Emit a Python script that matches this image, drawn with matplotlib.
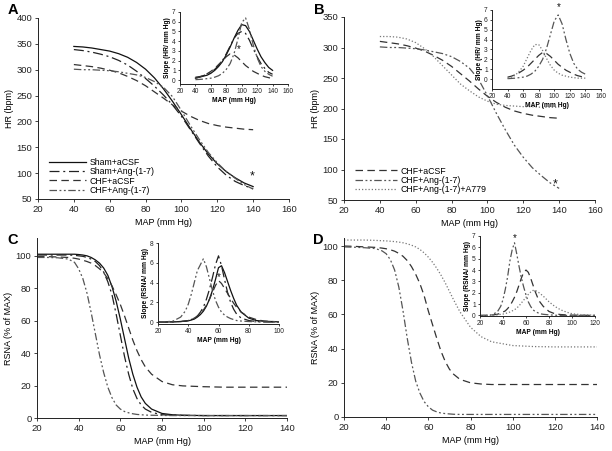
import matplotlib
matplotlib.use("Agg")
import matplotlib.pyplot as plt

plt.rcParams['font.family'] = ['Liberation Sans', 'DejaVu Sans']

# ---------------- DATA ----------------
# Panel A / B main: HR (bpm) vs MAP (mm Hg)
map_hr = [40, 45, 50, 55, 60, 65, 70, 75, 80, 85, 90, 95, 100, 105, 110, 115, 120, 125, 130, 135, 140]
hr_sham_acsf = [345, 344, 342, 339, 336, 331, 324, 314, 301, 284, 263, 239, 213, 186, 160, 137, 118, 103, 91, 81, 74]
hr_sham_ang = [339, 337, 334, 330, 325, 318, 309, 297, 283, 268, 251, 232, 210, 184, 158, 133, 112, 96, 84, 76, 70]
hr_chf_acsf = [310, 308, 306, 303, 299, 294, 287, 279, 269, 257, 245, 232, 220, 210, 202, 196, 192, 189, 187, 185, 184]
hr_chf_ang = [301, 300, 300, 299, 298, 296, 293, 290, 285, 277, 266, 248, 221, 192, 165, 140, 120, 103, 90, 78, 69]
hr_chf_ang_a779 = [318, 318, 317, 314, 308, 298, 285, 270, 255, 240, 229, 219, 212, 207, 205, 204, 203, 203, 202, 202, 202]

# Panel A / B insets: slope (HR/mm Hg)
slA_sham_acsf = [0.2, 0.3, 0.4, 0.5, 0.7, 1.0, 1.4, 1.9, 2.6, 3.4, 4.3, 5.1, 5.7, 5.6, 5.0, 4.1, 3.2, 2.4, 1.8, 1.3, 1.0]
slA_sham_ang = [0.3, 0.35, 0.45, 0.6, 0.8, 1.1, 1.5, 2.0, 2.7, 3.5, 4.3, 4.8, 5.0, 4.8, 4.1, 3.2, 2.4, 1.7, 1.2, 0.8, 0.6]
slA_chf_acsf = [0.2, 0.3, 0.45, 0.65, 0.9, 1.2, 1.6, 2.0, 2.4, 2.7, 2.6, 2.3, 1.9, 1.5, 1.2, 0.9, 0.7, 0.5, 0.35, 0.25, 0.15]
slA_chf_ang = [0.05, 0.07, 0.1, 0.15, 0.2, 0.3, 0.45, 0.7, 1.1, 1.7, 2.7, 4.2, 5.9, 6.4, 5.2, 3.6, 2.3, 1.4, 0.9, 0.6, 0.4]
slB_chf_ang = [0.05, 0.07, 0.1, 0.15, 0.2, 0.3, 0.5, 0.8, 1.3, 2.0, 3.1, 4.5, 5.9, 6.5, 5.6, 4.0, 2.6, 1.6, 1.0, 0.7, 0.5]
slB_a779 = [0.1, 0.2, 0.4, 0.8, 1.3, 2.1, 2.9, 3.5, 3.5, 2.9, 2.1, 1.4, 0.9, 0.6, 0.4, 0.3, 0.2, 0.15, 0.1, 0.1, 0.1]

# Panel C / D main: RSNA (% of MAX) vs MAP
map_rs = [20, 25, 30, 35, 38, 40, 42, 44, 46, 48, 50, 52, 54, 56, 58, 60, 62, 64, 66, 68, 70, 72, 75, 80, 85, 90, 100, 110, 120, 130, 140]
rsC_sham_acsf = [101, 101, 101, 101, 101, 100.8, 100.5, 100, 99, 97.5, 95.5, 92.5, 88, 81, 72, 61, 49, 37, 27, 19, 13, 9, 5.5, 2.8, 2, 1.7, 1.5, 1.5, 1.5, 1.5, 1.5]
rsC_sham_ang = [100.5, 100.5, 100.5, 100.5, 100.3, 100, 99.7, 99, 98, 96.5, 94, 90, 84, 76, 64, 51, 38, 27, 18, 12, 8, 5.5, 3.5, 2, 1.8, 1.6, 1.5, 1.5, 1.5, 1.5, 1.5]
rsC_chf_acsf = [99.5, 99.5, 99.3, 99, 98.5, 98, 97.3, 96.5, 95.5, 94, 92, 89.5, 86, 81.5, 76, 70, 63, 55.5, 48, 41.5, 36, 31.5, 27, 22.5, 20.5, 19.8, 19.3, 19, 19, 19, 19]
rsC_chf_ang = [99, 99, 98.8, 98, 96, 92, 86, 77, 65, 52, 39, 28, 19, 12.5, 8, 5.5, 4, 3.2, 2.6, 2.2, 2, 1.8, 1.7, 1.6, 1.5, 1.5, 1.5, 1.5, 1.5, 1.5, 1.5]
rsD_chf_acsf = [100, 99.8, 99.5, 99.2, 98.8, 98.4, 97.8, 97, 95.7, 94, 91.5, 88, 83.5, 78, 71, 62, 54, 46, 38.5, 32.5, 28, 25, 22, 20, 19.3, 19, 19, 19, 19, 19, 19]
rsD_chf_ang = [99.5, 99.3, 99, 98.5, 97.2, 95.5, 92, 86, 76, 62, 46, 32, 21, 14, 9, 6, 4, 3, 2.3, 2, 1.8, 1.6, 1.5, 1.5, 1.5, 1.5, 1.5, 1.5, 1.5, 1.5, 1.5]
rsD_a779 = [103.5, 103.5, 103.5, 103.3, 103.1, 103, 102.8, 102.6, 102.3, 101.9, 101.3, 100.5, 99.5, 98, 96, 93.5, 90.5, 87, 83, 78.5, 73.5, 68.5, 61.5, 52.5, 47, 44, 41.8, 41.2, 41, 41, 41]

# Panel C inset: slope (RSNA/mm Hg)
map_slC = [20, 25, 30, 35, 38, 40, 42, 44, 46, 48, 50, 52, 54, 56, 58, 60, 62, 64, 66, 68, 70, 72, 75, 80, 85, 90, 95, 100]
slC_chf_ang = [0, 0.02, 0.1, 0.5, 1.1, 1.8, 2.8, 4.0, 5.2, 5.8, 6.4, 5.6, 4.4, 3.2, 2.2, 1.5, 1.0, 0.7, 0.5, 0.35, 0.25, 0.15, 0.1, 0.05, 0.02, 0, 0, 0]
slC_sham_ang = [0, 0, 0.02, 0.05, 0.1, 0.15, 0.25, 0.4, 0.6, 1.0, 1.5, 2.3, 3.3, 4.5, 5.8, 6.7, 5.7, 4.3, 3.0, 2.0, 1.3, 0.8, 0.4, 0.15, 0.05, 0.02, 0, 0]
slC_sham_acsf = [0, 0, 0.02, 0.05, 0.08, 0.12, 0.2, 0.3, 0.5, 0.75, 1.1, 1.6, 2.3, 3.2, 4.3, 5.5, 5.7, 5.0, 4.1, 3.2, 2.4, 1.7, 1.0, 0.4, 0.15, 0.08, 0.05, 0.03]
slC_chf_acsf = [0, 0, 0.02, 0.05, 0.1, 0.15, 0.25, 0.4, 0.6, 0.85, 1.2, 1.7, 2.3, 3.0, 3.7, 4.2, 3.9, 3.4, 2.9, 2.4, 1.9, 1.5, 1.0, 0.5, 0.25, 0.1, 0.05, 0.03]

# Panel D inset
map_slD = [20, 25, 30, 35, 38, 40, 42, 44, 46, 48, 50, 52, 54, 56, 58, 60, 62, 64, 66, 68, 70, 72, 75, 80, 85, 90, 95, 100, 110, 120]
slD_chf_ang = [0, 0.01, 0.05, 0.3, 0.8, 1.4, 2.3, 3.4, 4.8, 5.8, 6.4, 5.4, 4.3, 3.3, 2.5, 1.8, 1.2, 0.8, 0.5, 0.35, 0.25, 0.15, 0.1, 0.05, 0.02, 0, 0, 0, 0, 0]
slD_chf_acsf = [0, 0, 0.03, 0.1, 0.2, 0.3, 0.4, 0.6, 0.85, 1.2, 1.6, 2.1, 2.7, 3.3, 3.8, 4.0, 3.8, 3.3, 2.7, 2.1, 1.6, 1.2, 0.8, 0.35, 0.15, 0.08, 0.05, 0.03, 0.01, 0]
slD_a779 = [0, 0, 0.02, 0.05, 0.1, 0.12, 0.17, 0.23, 0.3, 0.4, 0.5, 0.65, 0.85, 1.1, 1.35, 1.6, 1.85, 2.05, 2.2, 2.2, 2.1, 1.95, 1.7, 1.2, 0.8, 0.5, 0.3, 0.15, 0.05, 0.02]

# ---------------- STYLES ----------------
LW = 0.9
ST = {
    'sham_acsf': dict(color='#111111', linestyle='-', lw=LW),
    'sham_ang': dict(color='#222222', linestyle=(0, (8, 3, 1.6, 3)), lw=LW),
    'chf_acsf': dict(color='#333333', linestyle=(0, (6, 3.5)), lw=LW),
    'chf_ang': dict(color='#555555', linestyle=(0, (6, 2, 1.5, 2, 1.5, 2)), lw=LW),
    'a779': dict(color='#777777', linestyle=(0, (1, 1.6)), lw=LW),
}

W, H = 612, 451
fig = plt.figure(figsize=(W / 100, H / 100), dpi=100)


def ax_px(x0, x1, y_top, y_bot):
    return fig.add_axes([x0 / W, 1 - y_bot / H, (x1 - x0) / W, (y_bot - y_top) / H])


def style(ax, tick_fs, tl=2.5):
    for s in ('top', 'right'):
        ax.spines[s].set_visible(False)
    for s in ('left', 'bottom'):
        ax.spines[s].set_linewidth(0.7)
        ax.spines[s].set_color('#222222')
    ax.tick_params(direction='out', length=tl, width=0.6, labelsize=tick_fs, pad=1.5, colors='#222222')


TFS = 6.8
LFS = 6.5
IFS = 4.8

# ---- Panel A ----
axA = ax_px(38, 289, 18, 199)
axA.plot(map_hr, hr_sham_acsf, label='Sham+aCSF', **ST['sham_acsf'])
axA.plot(map_hr, hr_sham_ang, label='Sham+Ang-(1-7)', **ST['sham_ang'])
axA.plot(map_hr, hr_chf_acsf, label='CHF+aCSF', **ST['chf_acsf'])
axA.plot(map_hr, hr_chf_ang, label='CHF+Ang-(1-7)', **ST['chf_ang'])
axA.set_xlim(20, 160)
axA.set_ylim(50, 400)
axA.set_xticks(range(20, 161, 20))
axA.set_yticks(range(50, 401, 50))
style(axA, TFS)
axA.set_xlabel('MAP (mm Hg)', fontsize=LFS, labelpad=3)
axA.set_ylabel('HR (bpm)', fontsize=LFS, labelpad=2)
axA.text(139.5, 93, '*', fontsize=9, ha='center', va='center', color='#111111')
axA.legend(loc='lower left', bbox_to_anchor=(0.02, -0.01), frameon=False, fontsize=6.3,
           handlelength=4.2, handletextpad=0.4, labelspacing=0.02, borderpad=0.2)

iA = ax_px(180, 288, 12, 84)
iA.plot(map_hr, slA_sham_acsf, **ST['sham_acsf'])
iA.plot(map_hr, slA_sham_ang, **ST['sham_ang'])
iA.plot(map_hr, slA_chf_acsf, **ST['chf_acsf'])
iA.plot(map_hr, slA_chf_ang, **ST['chf_ang'])
iA.set_xlim(20, 160)
iA.set_ylim(-0.4, 7)
iA.set_xticks(range(20, 161, 20))
iA.set_yticks(range(0, 8))
style(iA, IFS, tl=1.5)
iA.set_xlabel('MAP (mm Hg)', fontsize=IFS, fontweight='bold', labelpad=1.5)
iA.set_ylabel('Slope (HR/ mm Hg)', fontsize=IFS, fontweight='bold', labelpad=1)
iA.text(96.5, 3.2, '*', fontsize=7, ha='center', va='center', color='#111111')

# ---- Panel B ----
axB = ax_px(344, 595, 17, 200)
axB.plot(map_hr, hr_chf_acsf, label='CHF+aCSF', **ST['chf_acsf'])
axB.plot(map_hr, hr_chf_ang, label='CHF+Ang-(1-7)', **ST['chf_ang'])
axB.plot(map_hr, hr_chf_ang_a779, label='CHF+Ang-(1-7)+A779', **ST['a779'])
axB.set_xlim(20, 160)
axB.set_ylim(50, 350)
axB.set_xticks(range(20, 161, 20))
axB.set_yticks(range(50, 351, 50))
style(axB, TFS)
axB.set_xlabel('MAP (mm Hg)', fontsize=LFS, labelpad=3)
axB.set_ylabel('HR (bpm)', fontsize=LFS, labelpad=2)
axB.text(137.8, 76, '*', fontsize=9, ha='center', va='center', color='#111111')
axB.legend(loc='lower left', bbox_to_anchor=(0.02, 0.0), frameon=False, fontsize=6.3,
           handlelength=4.8, handletextpad=0.4, labelspacing=0.02, borderpad=0.2)

iB = ax_px(492, 601, 10, 89)
iB.plot(map_hr, slA_chf_acsf, **ST['chf_acsf'])
iB.plot(map_hr, slB_chf_ang, **ST['chf_ang'])
iB.plot(map_hr, slB_a779, **ST['a779'])
iB.set_xlim(20, 160)
iB.set_ylim(-1.0, 7)
iB.set_xticks(range(20, 161, 20))
iB.set_yticks(range(0, 8))
style(iB, IFS, tl=1.5)
iB.set_xlabel('MAP (mm Hg)', fontsize=IFS, fontweight='bold', labelpad=1.5)
iB.set_ylabel('Slope (HR/ mm Hg)', fontsize=IFS, fontweight='bold', labelpad=1)
iB.text(106, 7.3, '*', fontsize=7, ha='center', va='center', color='#111111', clip_on=False)

# ---- Panel C ----
axC = ax_px(37, 287, 238, 418)
axC.plot(map_rs, rsC_sham_acsf, **ST['sham_acsf'])
axC.plot(map_rs, rsC_sham_ang, **ST['sham_ang'])
axC.plot(map_rs, rsC_chf_acsf, **ST['chf_acsf'])
axC.plot(map_rs, rsC_chf_ang, **ST['chf_ang'])
axC.set_xlim(20, 140)
axC.set_ylim(0, 111)
axC.set_xticks(range(20, 141, 20))
axC.set_yticks(range(0, 101, 20))
style(axC, TFS)
axC.set_xlabel('MAP (mm Hg)', fontsize=LFS, labelpad=3)
axC.set_ylabel('RSNA (% of MAX)', fontsize=LFS, labelpad=2)

iC = ax_px(158, 279, 243, 324)
iC.plot(map_slC, slC_sham_acsf, **ST['sham_acsf'])
iC.plot(map_slC, slC_sham_ang, **ST['sham_ang'])
iC.plot(map_slC, slC_chf_acsf, **ST['chf_acsf'])
iC.plot(map_slC, slC_chf_ang, **ST['chf_ang'])
iC.set_xlim(20, 100)
iC.set_ylim(-0.2, 8)
iC.set_xticks(range(20, 101, 20))
iC.set_yticks(range(0, 9, 2))
style(iC, IFS, tl=1.5)
iC.set_xlabel('MAP (mm Hg)', fontsize=IFS, fontweight='bold', labelpad=1.5)
iC.set_ylabel('Slope (RSNA/ mm Hg)', fontsize=IFS, fontweight='bold', labelpad=1)
iC.text(60.5, 4.6, '*', fontsize=7, ha='center', va='center', color='#111111')

# ---- Panel D ----
axD = ax_px(344, 597, 238, 417)
axD.plot(map_rs, rsD_chf_acsf, **ST['chf_acsf'])
axD.plot(map_rs, rsD_chf_ang, **ST['chf_ang'])
axD.plot(map_rs, rsD_a779, **ST['a779'])
axD.set_xlim(20, 140)
axD.set_ylim(0, 104.7)
axD.set_xticks(range(20, 141, 20))
axD.set_yticks(range(0, 101, 20))
style(axD, TFS)
axD.set_xlabel('MAP (mm Hg)', fontsize=LFS, labelpad=3)
axD.set_ylabel('RSNA (% of MAX)', fontsize=LFS, labelpad=2)

iD = ax_px(480, 595, 236, 316)
iD.plot(map_slD, slD_chf_acsf, **ST['chf_acsf'])
iD.plot(map_slD, slD_chf_ang, **ST['chf_ang'])
iD.plot(map_slD, slD_a779, **ST['a779'])
iD.set_xlim(20, 120)
iD.set_ylim(-0.05, 7)
iD.set_xticks(range(20, 121, 20))
iD.set_yticks(range(0, 8))
style(iD, IFS, tl=1.5)
iD.set_xlabel('MAP (mm Hg)', fontsize=IFS, fontweight='bold', labelpad=1.5)
iD.set_ylabel('Slope (RSNA/ mm Hg)', fontsize=IFS, fontweight='bold', labelpad=1)
iD.text(50.5, 6.85, '*', fontsize=7, ha='center', va='center', color='#111111', clip_on=False)

# panel letters
for lab, (px, py) in {'A': (8, 10), 'B': (314, 10), 'C': (7, 240), 'D': (313, 240)}.items():
    fig.text(px / W, 1 - py / H, lab, fontsize=10.5, fontweight='bold', ha='left', va='center')

fig.savefig('out.png', dpi=100)
